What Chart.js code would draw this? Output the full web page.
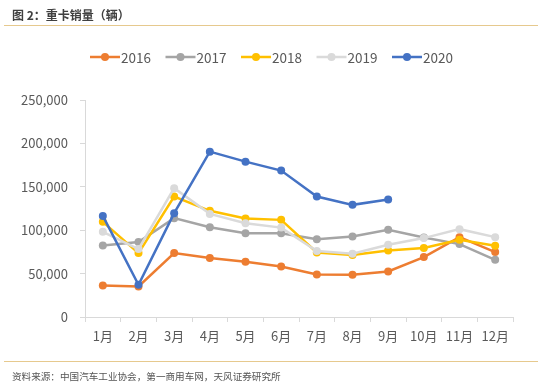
<!DOCTYPE html>
<html><head><meta charset="utf-8">
<script src="https://cdn.jsdelivr.net/npm/chart.js@4/dist/chart.umd.min.js"></script>
<style>
html,body{margin:0;padding:0;background:#fff;width:543px;height:392px;overflow:hidden;font-family:"Noto Sans CJK SC","Noto Sans",sans-serif;}
#title{position:absolute;left:12px;top:6px;font-size:12px;font-weight:bold;color:#404040;}
#line1{position:absolute;left:4px;top:25px;width:534px;height:1px;background:#E6C98E;}
#line2{position:absolute;left:4px;top:361px;width:534px;height:1px;background:#E6C98E;}
#foot{position:absolute;left:12px;top:369px;font-size:9.6px;color:#555;}
#wrap{position:absolute;left:0;top:0;width:543px;height:392px;}
</style></head><body>
<div id="wrap"><canvas id="c" width="543" height="392"></canvas></div>
<div id="title">图 2：重卡销量（辆）</div>
<div id="line1"></div>
<div id="line2"></div>
<div id="foot">资料来源：中国汽车工业协会，第一商用车网，天风证券研究所</div>
<script>
const months = ["1月","2月","3月","4月","5月","6月","7月","8月","9月","10月","11月","12月"];
const yTicks = [0,50000,100000,150000,200000,250000];
const s2016 = [36400,35200,73600,67900,63600,58200,49000,48700,52500,69000,92000,74800];
const s2017 = [82400,86300,113900,103500,96600,96600,89700,92700,100400,91600,84000,65900];
const s2018 = [109600,73600,138700,122300,113400,111900,74300,71300,76600,79400,88900,82000];
const s2019 = [98100,78200,148400,118800,108100,103000,75900,72800,83200,90900,101200,92000];
const s2020 = [116500,37100,119600,190500,179000,168700,138800,129200,135300,null,null,null];
const seriesNames = ["2016","2017","2018","2019","2020"];
const seriesData = [s2016,s2017,s2018,s2019,s2020];
const colors = ["#ED7D31","#A5A5A5","#FFC000","#DADADA","#4472C4"];

const datasets = seriesData.map((d,i)=>({
  label: seriesNames[i], data: d, borderColor: colors[i], backgroundColor: colors[i],
  borderWidth: 2.5, pointRadius: 4, pointBorderWidth: 0, pointBackgroundColor: colors[i],
  tension: 0, spanGaps: false, order: 4 - i
}));

const legendPlugin = {
  id: 'customLegend',
  afterDraw(chart){
    const ctx = chart.ctx;
    ctx.save();
    ctx.font = '13.5px "Noto Sans CJK SC","Noto Sans",sans-serif';
    ctx.textBaseline = 'middle';
    const y = 57;
    let x = 90;
    chart.data.datasets.forEach(ds=>{
      ctx.strokeStyle = ds.borderColor; ctx.lineWidth = 2.5;
      ctx.beginPath(); ctx.moveTo(x,y); ctx.lineTo(x+30,y); ctx.stroke();
      ctx.fillStyle = ds.borderColor;
      ctx.beginPath(); ctx.arc(x+15,y,4,0,Math.PI*2); ctx.fill();
      ctx.fillStyle = '#595959';
      ctx.fillText(ds.label, x+31, y+1);
      x += 75.5;
    });
    ctx.restore();
  }
};

new Chart(document.getElementById('c'), {
  type: 'line',
  data: { labels: months, datasets },
  options: {
    responsive: false, animation: false,
    layout: { padding: { top: 100, right: 30, left: 0, bottom: 0 } },
    plugins: { legend: { display: false }, tooltip: { enabled: false } },
    scales: {
      x: {
        offset: true,
        grid: { offset: true, drawOnChartArea: false, drawTicks: true, tickLength: 5, color: '#D9D9D9' },
        border: { color: '#D9D9D9', width: 1 },
        ticks: { color: '#595959', font: { size: 13, family: '"Noto Sans CJK SC","Noto Sans",sans-serif' }, padding: 6, maxRotation: 0, autoSkip: false },
        afterFit(s){ s.height = 75; }
      },
      y: {
        min: 0, max: 250000,
        afterBuildTicks(s){ s.ticks = yTicks.map(v=>({value:v})); },
        grid: { drawOnChartArea: false, drawTicks: true, tickLength: 5, color: '#D9D9D9' },
        border: { color: '#D9D9D9', width: 1 },
        ticks: { color: '#595959', font: { size: 13, family: '"Noto Sans CJK SC","Noto Sans",sans-serif' }, padding: 12,
          callback: v => v.toLocaleString('en-US') },
        afterFit(s){ s.width = 85; }
      }
    }
  },
  plugins: [legendPlugin]
});
</script>
</body></html>
